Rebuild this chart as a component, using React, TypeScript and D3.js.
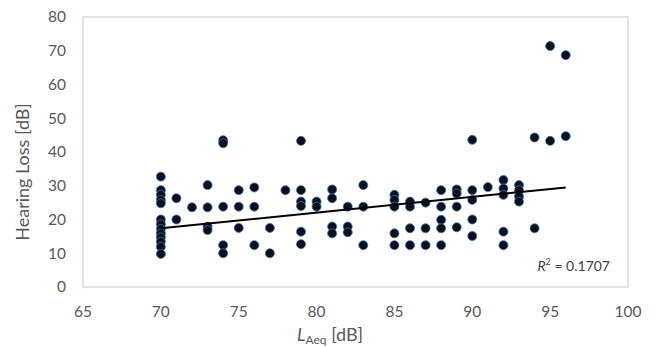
import React from "react";
import * as d3 from "d3";

const xTicks = [65, 70, 75, 80, 85, 90, 95, 100];
const yTicks = [0, 10, 20, 30, 40, 50, 60, 70, 80];

const laeq = [
  70, 70, 70, 70, 70, 70, 70, 70, 70, 70, 70, 70, 70,
  71, 71,
  72,
  73, 73, 73, 73,
  74, 74, 74, 74, 74,
  75, 75, 75,
  76, 76, 76,
  77, 77,
  78,
  79, 79, 79, 79, 79, 79,
  80, 80,
  81, 81, 81, 81,
  82, 82, 82,
  83, 83, 83,
  85, 85, 85, 85, 85,
  86, 86, 86, 86,
  87, 87, 87,
  88, 88, 88, 88, 88,
  89, 89, 89, 89,
  90, 90, 90, 90, 90,
  91,
  92, 92, 92, 92, 92,
  93, 93, 93, 93,
  94, 94,
  95, 95,
  96, 96,
];

const hearingLoss = [
  32.7, 28.7, 27.3, 25.8, 24.8, 20, 18.6, 17.2, 15.9, 14.7, 13.4, 11.9, 9.8,
  26.3, 20,
  23.6,
  30.2, 23.6, 17.9, 16.9,
  43.5, 42.6, 23.8, 12.4, 10,
  28.7, 23.8, 17.5,
  29.5, 23.8, 12.4,
  17.5, 10,
  28.7,
  43.3, 28.7, 25.3, 24, 16.4, 12.7,
  25.3, 23.8,
  28.9, 26.3, 17.9, 15.9,
  23.8, 17.9, 16.2,
  30.2, 23.8, 12.4,
  27.3, 25.8, 23.8, 15.9, 12.4,
  25.3, 23.8, 17.4, 12.4,
  25, 17.4, 12.4,
  28.7, 23.8, 19.9, 17.4, 12.4,
  28.9, 27.7, 23.8, 17.7,
  43.6, 28.7, 25.8, 20, 15.1,
  29.6,
  31.7, 29.2, 27.3, 16.4, 12.4,
  30.2, 28.7, 26.8, 25.3,
  44.3, 17.4,
  71.4, 43.3,
  68.7, 44.7,
];

// Linear trend line as shown in the chart
const trendSlope = 0.465;
const trendIntercept = -15.15;
const r2Label = "0.1707";

export default function App() {
  const W = 655;
  const H = 347;
  const left = 83, right = 628, top = 17, bottom = 287;
  const x = d3.scaleLinear().domain([65, 100]).range([left, right]);
  const y = d3.scaleLinear().domain([0, 80]).range([bottom, top]);

  const x0 = d3.min(laeq) as number;
  const x1 = d3.max(laeq) as number;
  const line = d3.line<number>().x((d) => x(d)).y((d) => y(trendIntercept + trendSlope * d));

  const font = "Lato, 'Open Sans', sans-serif";
  const textColor = "#595959";

  return (
    <svg width={W} height={H} style={{ position: "absolute", left: 0, top: 0, background: "#fff" }} fontFamily={font}>
      <rect x={left} y={top} width={right - left} height={bottom - top} fill="none" stroke="#c8c8c8" strokeWidth={1} />
      {yTicks.map((t) => (
        <text key={"y" + t} x={66} y={y(t)} dy="0.35em" textAnchor="end" fontSize={15.5} fill={textColor}>{t}</text>
      ))}
      {xTicks.map((t) => (
        <text key={"x" + t} x={x(t)} y={312} dy="0.35em" textAnchor="middle" fontSize={15.5} fill={textColor}>{t}</text>
      ))}
      <text transform={`translate(23,172) rotate(-90)`} textAnchor="middle" dy="0.35em" fontSize={18} fill={textColor}>Hearing Loss [dB]</text>
      <text x={330} y={341} textAnchor="middle" fontSize={18} fill={textColor}>
        <tspan fontStyle="italic">L</tspan>
        <tspan fontSize={12} dy={3}>Aeq</tspan>
        <tspan dy={-3}> [dB]</tspan>
      </text>
      <g>
        {laeq.map((d, i) => (
          <circle key={i} cx={x(d)} cy={y(hearingLoss[i])} r={4.5} fill="#0b0f1e" stroke="#3a6ea5" strokeWidth={0.8} />
        ))}
      </g>
      <path d={line([x0, x1]) as string} stroke="#000" strokeWidth={2} fill="none" />
      <text x={610} y={271} textAnchor="end" fontSize={14} fill="#404040">
        <tspan fontStyle="italic">R</tspan>
        <tspan fontSize={9} dy={-6}>2</tspan>
        <tspan dy={6}>{` = ${r2Label}`}</tspan>
      </text>
    </svg>
  );
}
